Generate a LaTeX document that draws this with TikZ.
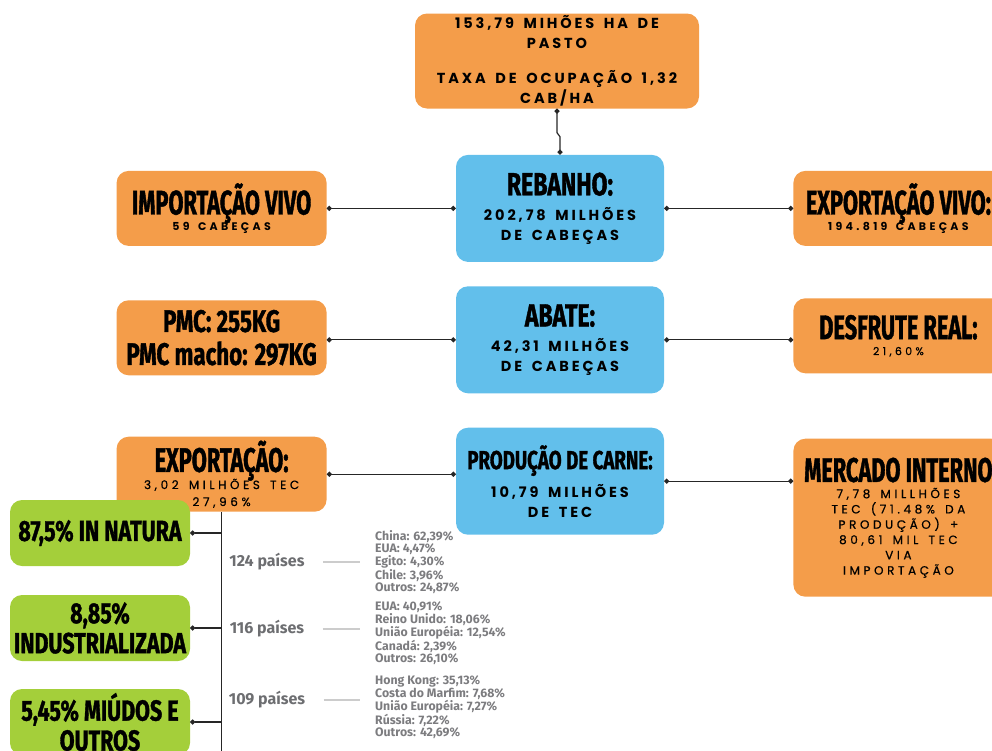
\documentclass[tikz,border=0pt]{standalone}
\usepackage{fontspec}
\setmainfont{Fira Sans}
\newfontfamily\headfont{Fira Sans}[FakeStretch=0.64, BoldFeatures={FakeBold=1.2}]
\newfontfamily\midfont{Fira Sans}[FakeStretch=0.72, BoldFeatures={FakeBold=1.2}]
\newfontfamily\greenfont{Fira Sans}[FakeStretch=0.74, BoldFeatures={FakeBold=1.2}]
\newfontfamily\spacedfont{Poppins}[LetterSpace=20, WordSpace=1.6]
\newfontfamily\widefont{Poppins}[LetterSpace=30, WordSpace=1.5]
\newfontfamily\mediumfont{Poppins}[LetterSpace=30, WordSpace=1.5, FakeBold=0.6]
\usetikzlibrary{arrows,arrows.meta}
\usetikzlibrary{positioning}
\definecolor{boxorange}{HTML}{F49D4A}
\definecolor{boxblue}{HTML}{62BFEB}
\definecolor{boxgreen}{HTML}{A4CF3A}
\definecolor{greytext}{HTML}{6D6E71}
\tikzset{
	orangebox/.style={
		rectangle,
		rounded corners=12pt,
		fill=boxorange,
		text=black,
		align=center,
		inner sep=0pt},
	bluebox/.style={
		orangebox,
		fill=boxblue,
		minimum width=208pt,
		minimum height=107pt},
	sidebox/.style={
		orangebox,
		minimum width=210pt,
		minimum height=75pt},
	greenbox/.style={
		orangebox,
		fill=boxgreen,
		minimum width=180pt,
		minimum height=66pt,
		font=\greenfont\bfseries\fontsize{29}{30}\selectfont},
	link/.style={draw=black!85, line width=1.2pt, {Circle[length=5pt]}-{Circle[length=5pt]}},
	branch/.style={draw=black!85, line width=1.2pt, -{Circle[length=5pt]}},
	greyline/.style={draw=black!20, line width=1.2pt, shorten <=15pt, shorten >=12pt},
	paises/.style={text=greytext, font=\bfseries\fontsize{16}{18}\selectfont},
	lista/.style={text=greytext!90, align=left, anchor=west, inner sep=3pt,
		font=\bfseries\fontsize{12.3}{11.7}\selectfont},
}
\newcommand{\boxtitle}[1]{{\headfont\bfseries\fontsize{34}{36}\selectfont #1}}
\newcommand{\midtitle}[1]{{\midfont\bfseries\fontsize{32}{34}\selectfont #1}}

\begin{document}
\begin{tikzpicture}[x=1pt,y=1pt]
	\path[use as bounding box, clip] (0,0) rectangle (992,-750);
	% coluna central
	\node[orangebox, minimum width=284pt, minimum height=95pt,
		font=\spacedfont\bfseries\fontsize{14.5}{19.5}\selectfont] (pasto) at (557,-61)
		{153,79 MIHÕES HA DE\\PASTO\\[16pt]TAXA DE OCUPAÇÃO 1,32\\CAB/HA};
	\node[bluebox, below=46pt of pasto, xshift=3pt,
		font=\spacedfont\bfseries\fontsize{14.5}{20}\selectfont] (rebanho)
		{\midtitle{REBANHO:}\\[5pt]202,78 MILHÕES\\DE CABEÇAS};
	\node[bluebox, below=24pt of rebanho,
		font=\spacedfont\bfseries\fontsize{14.5}{20}\selectfont] (abate)
		{\midtitle{ABATE:}\\[5pt]42,31 MILHÕES\\DE CABEÇAS};
	\node[bluebox, below=34pt of abate,
		font=\spacedfont\bfseries\fontsize{14.5}{20}\selectfont] (producao)
		{{\midfont\bfseries\fontsize{26}{28}\selectfont PRODUÇÃO DE CARNE:}\\[8pt]10,79 MILHÕES\\DE TEC};
	% lado esquerdo
	\node[sidebox, left=129pt of rebanho,
		font=\widefont\bfseries\fontsize{11}{14}\selectfont] (importacao)
		{\boxtitle{IMPORTAÇÃO VIVO}\\[-2pt]59 CABEÇAS};
	\node[sidebox, left=129pt of abate, yshift=2pt,
		font=\midfont\bfseries\fontsize{31}{33}\selectfont] (pmc)
		{PMC: 255KG\\PMC macho: 297KG};
	\node[sidebox, left=129pt of producao, yshift=7pt,
		font=\mediumfont\fontsize{12}{17}\selectfont] (exportacao)
		{\boxtitle{EXPORTAÇÃO:}\\[-3pt]3,02 MILHÕES TEC\\27,96\%};
	% lado direito
	\node[sidebox, right=129pt of rebanho,
		font=\widefont\bfseries\fontsize{11}{14}\selectfont] (exportvivo)
		{\boxtitle{EXPORTAÇÃO VIVO:}\\[-2pt]194.819 CABEÇAS};
	\node[sidebox, right=129pt of abate, yshift=4pt,
		font=\mediumfont\fontsize{11}{14}\selectfont] (desfrute)
		{\boxtitle{DESFRUTE REAL:}\\[2pt]21,60\%};
	\node[sidebox, right=129pt of producao.north east, anchor=north west, yshift=-11pt,
		minimum height=158pt,
		font=\mediumfont\fontsize{12}{15.3}\selectfont] (mercado)
		{\boxtitle{MERCADO INTERNO}\\[1pt]7,78 MILLHÕES\\TEC (71.48\% DA\\PRODUÇÃO) +\\80,61 MIL TEC\\VIA\\IMPORTAÇÃO};
	% exportacao por tipo
	\node[greenbox] (natura) at (100,-533) {87,5\% IN NATURA};
	\node[greenbox] (industrial) at (100,-628) {8,85\%\\INDUSTRIALIZADA};
	\node[greenbox] (miudos) at (100,-722) {5,45\% MIÚDOS E\\OUTROS};
	\coordinate (tronco) at (exportacao.south |- 0,-760);
	\node[paises] (paises1) at (267,-562) {124 países};
	\node[paises] (paises2) at (267,-629) {116 países};
	\node[paises] (paises3) at (267,-700) {109 países};
	\node[lista] (lista1) at (372,-562)
		{China: 62,39\%\\EUA: 4,47\%\\Egito: 4,30\%\\Chile: 3,96\%\\Outros: 24,87\%};
	\node[lista] (lista2) at (372,-633)
		{EUA: 40,91\%\\Reino Unido: 18,06\%\\União Européia: 12,54\%\\Canadá: 2,39\%\\Outros: 26,10\%};
	\node[lista] (lista3) at (372,-707)
		{Hong Kong: 35,13\%\\Costa do Marfim: 7,68\%\\União Européia: 7,27\%\\Rússia: 7,22\%\\Outros: 42,69\%};
	% conexoes
	\draw[link] (pasto.south) -- ++(0,-24) -- ([yshift=18pt]rebanho.north) -- (rebanho.north);
	\draw[link] (rebanho.west) -- (rebanho.west -| importacao.east);
	\draw[link] (rebanho.east) -- (rebanho.east -| exportvivo.west);
	\draw[link] (abate.west) -- (abate.west -| pmc.east);
	\draw[link] (abate.east) -- (abate.east -| desfrute.west);
	\draw[link] (exportacao.east) -- (exportacao.east -| producao.west);
	\draw[link] (producao.east) -- (producao.east -| mercado.west);
	\draw[draw=black!85, line width=1.2pt] (exportacao.south) -- (tronco);
	\draw[branch] (natura.east -| tronco) -- (natura.east);
	\draw[branch] (industrial.east -| tronco) -- (industrial.east);
	\draw[branch] (miudos.east -| tronco) -- (miudos.east);
	\draw[greyline] (paises1.east) -- (paises1.east -| lista1.west);
	\draw[greyline] (paises2.east) -- (paises2.east -| lista2.west);
	\draw[greyline] (paises3.east) -- (paises3.east -| lista3.west);
\end{tikzpicture}
\end{document}
